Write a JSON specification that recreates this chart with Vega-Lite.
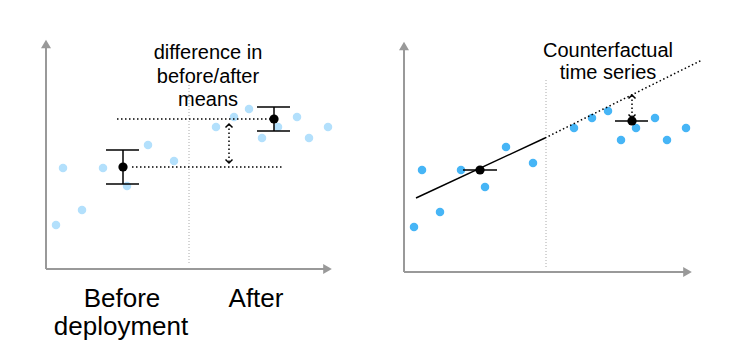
{
  "$schema": "https://vega.github.io/schema/vega-lite/v6.json",
  "width": 756,
  "height": 347,
  "padding": 0,
  "autosize": {"type": "fit", "contains": "padding"},
  "config": {"view": {"stroke": null}, "font": "Liberation Sans"},
  "datasets": {
    "points": [
      {"panel": "before_after", "x": 56, "y": 122},
      {"panel": "before_after", "x": 63, "y": 179},
      {"panel": "before_after", "x": 82, "y": 137},
      {"panel": "before_after", "x": 103, "y": 179},
      {"panel": "before_after", "x": 127, "y": 161},
      {"panel": "before_after", "x": 148, "y": 202},
      {"panel": "before_after", "x": 174, "y": 186},
      {"panel": "before_after", "x": 216, "y": 220},
      {"panel": "before_after", "x": 234, "y": 230},
      {"panel": "before_after", "x": 249, "y": 238},
      {"panel": "before_after", "x": 262, "y": 209},
      {"panel": "before_after", "x": 278, "y": 220},
      {"panel": "before_after", "x": 297, "y": 230},
      {"panel": "before_after", "x": 309, "y": 209},
      {"panel": "before_after", "x": 328, "y": 220},
      {"panel": "counterfactual", "x": 414, "y": 120},
      {"panel": "counterfactual", "x": 422, "y": 177},
      {"panel": "counterfactual", "x": 440, "y": 135},
      {"panel": "counterfactual", "x": 461, "y": 177},
      {"panel": "counterfactual", "x": 485, "y": 160},
      {"panel": "counterfactual", "x": 506, "y": 200},
      {"panel": "counterfactual", "x": 533, "y": 184},
      {"panel": "counterfactual", "x": 574, "y": 219},
      {"panel": "counterfactual", "x": 592, "y": 229},
      {"panel": "counterfactual", "x": 608, "y": 236},
      {"panel": "counterfactual", "x": 621, "y": 207},
      {"panel": "counterfactual", "x": 636, "y": 219},
      {"panel": "counterfactual", "x": 655, "y": 229},
      {"panel": "counterfactual", "x": 667, "y": 207},
      {"panel": "counterfactual", "x": 686, "y": 219}
    ],
    "means": [
      {"x": 123, "y": 180},
      {"x": 274, "y": 228},
      {"x": 480, "y": 177},
      {"x": 632, "y": 226}
    ],
    "segments": [
      {"kind": "axis", "x": 46, "y": 78, "x2": 46, "y2": 300},
      {"kind": "axis", "x": 46, "y": 78, "x2": 326, "y2": 78},
      {"kind": "axis", "x": 404, "y": 75, "x2": 404, "y2": 298},
      {"kind": "axis", "x": 404, "y": 75, "x2": 686, "y2": 75},
      {"kind": "divider", "x": 189, "y": 84, "x2": 189, "y2": 262},
      {"kind": "divider", "x": 546, "y": 80, "x2": 546, "y2": 267},
      {"kind": "solid", "x": 123, "y": 163, "x2": 123, "y2": 197},
      {"kind": "solid", "x": 106, "y": 197, "x2": 139, "y2": 197},
      {"kind": "solid", "x": 106, "y": 163, "x2": 139, "y2": 163},
      {"kind": "solid", "x": 274, "y": 216, "x2": 274, "y2": 240},
      {"kind": "solid", "x": 257, "y": 240, "x2": 290, "y2": 240},
      {"kind": "solid", "x": 257, "y": 216, "x2": 290, "y2": 216},
      {"kind": "solid", "x": 463, "y": 177, "x2": 497, "y2": 177},
      {"kind": "solid", "x": 615, "y": 226, "x2": 648, "y2": 226},
      {"kind": "solid", "x": 416, "y": 149, "x2": 545, "y2": 209},
      {"kind": "dotted", "x": 117, "y": 228, "x2": 273, "y2": 228},
      {"kind": "dotted", "x": 132, "y": 180, "x2": 283, "y2": 180},
      {"kind": "dotted", "x": 229, "y": 185, "x2": 229, "y2": 222},
      {"kind": "dotted", "x": 545, "y": 209, "x2": 702, "y2": 287},
      {"kind": "dotted", "x": 632, "y": 230, "x2": 632, "y2": 251}
    ],
    "heads": [
      {"kind": "axis", "dir": "up", "x": 46, "y": 303},
      {"kind": "axis", "dir": "right", "x": 327.5, "y": 78},
      {"kind": "axis", "dir": "up", "x": 404, "y": 301},
      {"kind": "axis", "dir": "right", "x": 687.5, "y": 75},
      {"kind": "arrow", "dir": "up", "x": 229, "y": 223},
      {"kind": "arrow", "dir": "down", "x": 229, "y": 184},
      {"kind": "arrow", "dir": "up", "x": 632, "y": 252},
      {"kind": "arrow", "dir": "down", "x": 632, "y": 229}
    ],
    "labels": [
      {"kind": "note", "x": 208, "y": 288, "text": "difference in"},
      {"kind": "note", "x": 208, "y": 264, "text": "before/after"},
      {"kind": "note", "x": 208, "y": 241, "text": "means"},
      {"kind": "note", "x": 608, "y": 290, "text": "Counterfactual"},
      {"kind": "note", "x": 608, "y": 268, "text": "time series"},
      {"kind": "category", "x": 122, "y": 40, "text": "Before"},
      {"kind": "category", "x": 121, "y": 12, "text": "deployment"},
      {"kind": "category", "x": 256, "y": 40, "text": "After"}
    ]
  },
  "encoding": {
    "x": {"field": "x", "type": "quantitative", "scale": {"domain": [0, 756], "nice": false, "zero": false}, "axis": null},
    "y": {"field": "y", "type": "quantitative", "scale": {"domain": [0, 347], "nice": false, "zero": false}, "axis": null}
  },
  "layer": [
    {
      "data": {"name": "segments"},
      "transform": [{"filter": "datum.kind === 'axis'"}],
      "mark": {"type": "rule", "stroke": "#999999", "strokeWidth": 2},
      "encoding": {"x2": {"field": "x2"}, "y2": {"field": "y2"}}
    },
    {
      "data": {"name": "segments"},
      "transform": [{"filter": "datum.kind === 'divider'"}],
      "mark": {"type": "rule", "stroke": "#aaaaaa", "strokeWidth": 1, "strokeDash": [1, 2]},
      "encoding": {"x2": {"field": "x2"}, "y2": {"field": "y2"}}
    },
    {
      "data": {"name": "heads"},
      "transform": [{"filter": "datum.kind === 'axis' && datum.dir === 'up'"}],
      "mark": {"type": "point", "shape": "triangle-up", "filled": true, "color": "#999999", "size": 100, "opacity": 1}
    },
    {
      "data": {"name": "heads"},
      "transform": [{"filter": "datum.kind === 'axis' && datum.dir === 'right'"}],
      "mark": {"type": "point", "shape": "triangle-right", "filled": true, "color": "#999999", "size": 100, "opacity": 1}
    },
    {
      "data": {"name": "points"},
      "transform": [{"filter": "datum.panel === 'before_after'"}],
      "mark": {"type": "circle", "color": "#b3e0fc", "size": 72, "opacity": 1}
    },
    {
      "data": {"name": "points"},
      "transform": [{"filter": "datum.panel === 'counterfactual'"}],
      "mark": {"type": "circle", "color": "#46b5f6", "size": 72, "opacity": 1}
    },
    {
      "data": {"name": "segments"},
      "transform": [{"filter": "datum.kind === 'dotted'"}],
      "mark": {"type": "rule", "stroke": "#000000", "strokeWidth": 1.5, "strokeDash": [1.5, 2.5]},
      "encoding": {"x2": {"field": "x2"}, "y2": {"field": "y2"}}
    },
    {
      "data": {"name": "segments"},
      "transform": [{"filter": "datum.kind === 'solid'"}],
      "mark": {"type": "rule", "stroke": "#000000", "strokeWidth": 1.5},
      "encoding": {"x2": {"field": "x2"}, "y2": {"field": "y2"}}
    },
    {
      "data": {"name": "heads"},
      "transform": [{"filter": "datum.kind === 'arrow' && datum.dir === 'up'"}],
      "mark": {"type": "point", "shape": "M-1,1L0,0L1,1", "filled": false, "stroke": "#000000", "strokeWidth": 1.5, "size": 49, "opacity": 1}
    },
    {
      "data": {"name": "heads"},
      "transform": [{"filter": "datum.kind === 'arrow' && datum.dir === 'down'"}],
      "mark": {"type": "point", "shape": "M-1,-1L0,0L1,-1", "filled": false, "stroke": "#000000", "strokeWidth": 1.5, "size": 49, "opacity": 1}
    },
    {
      "data": {"name": "means"},
      "mark": {"type": "circle", "color": "#000000", "size": 85, "opacity": 1}
    },
    {
      "data": {"name": "labels"},
      "transform": [{"filter": "datum.kind === 'note'"}],
      "mark": {"type": "text", "font": "Liberation Sans", "fontSize": 20, "align": "center", "baseline": "alphabetic", "color": "#000000"},
      "encoding": {"text": {"field": "text"}}
    },
    {
      "data": {"name": "labels"},
      "transform": [{"filter": "datum.kind === 'category'"}],
      "mark": {"type": "text", "font": "Liberation Sans", "fontSize": 26, "align": "center", "baseline": "alphabetic", "color": "#000000"},
      "encoding": {"text": {"field": "text"}}
    }
  ]
}
